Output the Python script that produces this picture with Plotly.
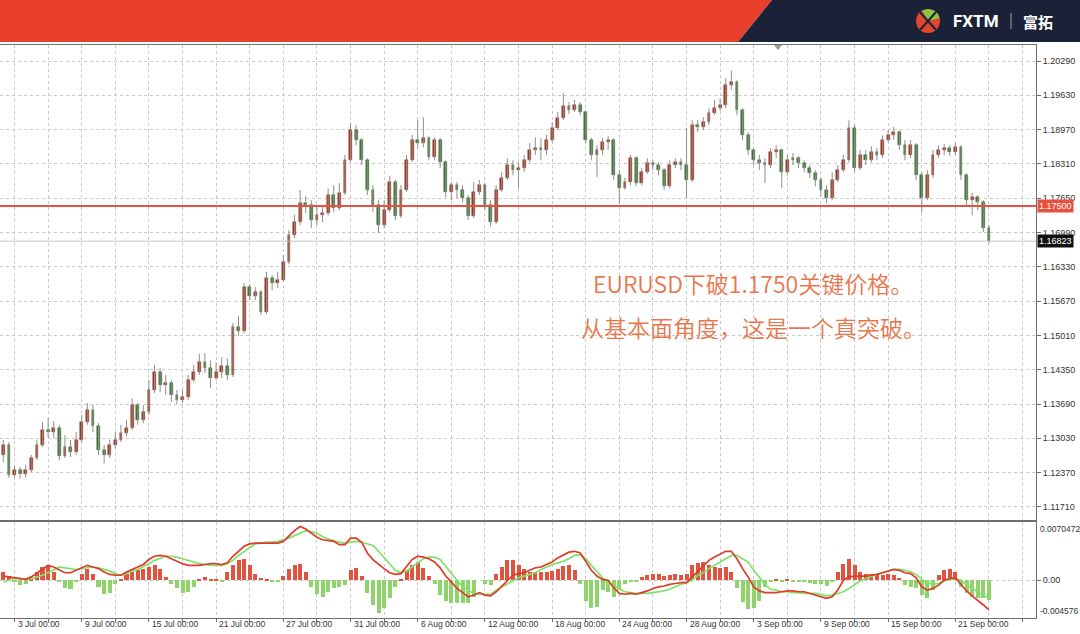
import plotly.graph_objects as go

# ---------------- data (EURUSD, bars ~8h) ----------------
OPEN = [1.1271, 1.1290, 1.1232, 1.1242, 1.1234, 1.1242, 1.1265, 1.1290, 1.1319, 1.1315,
        1.1323, 1.1269, 1.1286, 1.1277, 1.1300, 1.1334, 1.1357, 1.1327, 1.1280, 1.1271,
        1.1290, 1.1300, 1.1313, 1.1323, 1.1367, 1.1338, 1.1353, 1.1396, 1.1430, 1.1405,
        1.1409, 1.1386, 1.1377, 1.1382, 1.1415, 1.1430, 1.1449, 1.1438, 1.1419, 1.1430,
        1.1442, 1.1425, 1.1517, 1.1510, 1.1594, 1.1577, 1.1585, 1.1546, 1.1611, 1.1602,
        1.1608, 1.1642, 1.1694, 1.1719, 1.1756, 1.1752, 1.1723, 1.1732, 1.1736, 1.1771,
        1.1746, 1.1775, 1.1838, 1.1896, 1.1877, 1.1838, 1.1780, 1.1752, 1.1713, 1.1742,
        1.1796, 1.1730, 1.1781, 1.1838, 1.1877, 1.1871, 1.1881, 1.1844, 1.1877, 1.1834,
        1.1777, 1.1790, 1.1781, 1.1765, 1.1730, 1.1777, 1.1790, 1.1752, 1.1719, 1.1781,
        1.1804, 1.1829, 1.1819, 1.1823, 1.1838, 1.1858, 1.1861, 1.1858, 1.1877, 1.1900,
        1.1919, 1.1942, 1.1934, 1.1944, 1.1931, 1.1877, 1.1848, 1.1858, 1.1873, 1.1877,
        1.1809, 1.1784, 1.1796, 1.1842, 1.1794, 1.1815, 1.1832, 1.1829, 1.1819, 1.1788,
        1.1829, 1.1834, 1.1829, 1.1800, 1.1906, 1.1902, 1.1911, 1.1929, 1.1938, 1.1944,
        1.1982, 1.1988, 1.1934, 1.1886, 1.1858, 1.1838, 1.1832, 1.1829, 1.1854, 1.1858,
        1.1815, 1.1838, 1.1842, 1.1832, 1.1823, 1.1813, 1.1800, 1.1781, 1.1765, 1.1800,
        1.1819, 1.1838, 1.1900, 1.1823, 1.1848, 1.1838, 1.1854, 1.1848, 1.1877, 1.1886,
        1.1892, 1.1867, 1.1848, 1.1867, 1.1809, 1.1765, 1.1809, 1.1848, 1.1858, 1.1861,
        1.1854, 1.1863, 1.1809, 1.1761, 1.1767, 1.1757, 1.1708]
HIGH = [1.1300, 1.1296, 1.1250, 1.1248, 1.1252, 1.1271, 1.1300, 1.1334, 1.1342, 1.1336,
        1.1329, 1.1309, 1.1300, 1.1315, 1.1348, 1.1371, 1.1367, 1.1332, 1.1290, 1.1300,
        1.1315, 1.1329, 1.1338, 1.1380, 1.1371, 1.1367, 1.1415, 1.1444, 1.1438, 1.1425,
        1.1415, 1.1396, 1.1396, 1.1425, 1.1444, 1.1465, 1.1467, 1.1453, 1.1449, 1.1459,
        1.1457, 1.1525, 1.1538, 1.1602, 1.1600, 1.1594, 1.1588, 1.1623, 1.1617, 1.1623,
        1.1656, 1.1704, 1.1733, 1.1781, 1.1769, 1.1761, 1.1748, 1.1752, 1.1784, 1.1790,
        1.1794, 1.1848, 1.1910, 1.1906, 1.1881, 1.1842, 1.1790, 1.1761, 1.1761, 1.1808,
        1.1800, 1.1790, 1.1848, 1.1887, 1.1916, 1.1921, 1.1884, 1.1882, 1.1881, 1.1838,
        1.1796, 1.1796, 1.1790, 1.1771, 1.1796, 1.1800, 1.1794, 1.1761, 1.1790, 1.1815,
        1.1842, 1.1838, 1.1834, 1.1848, 1.1871, 1.1882, 1.1881, 1.1887, 1.1911, 1.1931,
        1.1967, 1.1950, 1.1954, 1.1950, 1.1934, 1.1881, 1.1867, 1.1881, 1.1884, 1.1880,
        1.1819, 1.1804, 1.1848, 1.1846, 1.1823, 1.1842, 1.1838, 1.1834, 1.1823, 1.1838,
        1.1842, 1.1842, 1.1900, 1.1915, 1.1915, 1.1921, 1.1938, 1.1954, 1.1957, 1.1996,
        1.2011, 1.1992, 1.1938, 1.1892, 1.1861, 1.1848, 1.1842, 1.1861, 1.1867, 1.1861,
        1.1848, 1.1852, 1.1846, 1.1838, 1.1829, 1.1819, 1.1804, 1.1790, 1.1815, 1.1829,
        1.1848, 1.1915, 1.1906, 1.1858, 1.1858, 1.1865, 1.1861, 1.1886, 1.1896, 1.1902,
        1.1896, 1.1877, 1.1877, 1.1871, 1.1815, 1.1819, 1.1858, 1.1867, 1.1869, 1.1867,
        1.1871, 1.1867, 1.1813, 1.1775, 1.1771, 1.1761, 1.1713]
LOW = [1.1257, 1.1227, 1.1227, 1.1225, 1.1227, 1.1238, 1.1261, 1.1286, 1.1304, 1.1304,
       1.1261, 1.1265, 1.1267, 1.1271, 1.1296, 1.1329, 1.1315, 1.1271, 1.1255, 1.1265,
       1.1284, 1.1296, 1.1307, 1.1319, 1.1329, 1.1332, 1.1348, 1.1390, 1.1392, 1.1386,
       1.1373, 1.1369, 1.1371, 1.1377, 1.1411, 1.1425, 1.1428, 1.1400, 1.1415, 1.1419,
       1.1415, 1.1421, 1.1500, 1.1505, 1.1569, 1.1569, 1.1540, 1.1542, 1.1588, 1.1592,
       1.1604, 1.1638, 1.1688, 1.1713, 1.1736, 1.1708, 1.1713, 1.1719, 1.1732, 1.1738,
       1.1742, 1.1771, 1.1834, 1.1867, 1.1829, 1.1771, 1.1738, 1.1698, 1.1707, 1.1738,
       1.1723, 1.1727, 1.1777, 1.1834, 1.1862, 1.1863, 1.1838, 1.1838, 1.1823, 1.1767,
       1.1761, 1.1765, 1.1757, 1.1723, 1.1727, 1.1771, 1.1742, 1.1711, 1.1715, 1.1777,
       1.1800, 1.1809, 1.1784, 1.1815, 1.1834, 1.1848, 1.1838, 1.1848, 1.1873, 1.1896,
       1.1915, 1.1927, 1.1931, 1.1925, 1.1871, 1.1838, 1.1806, 1.1848, 1.1858, 1.1800,
       1.1755, 1.1781, 1.1790, 1.1788, 1.1790, 1.1812, 1.1819, 1.1809, 1.1781, 1.1784,
       1.1823, 1.1819, 1.1765, 1.1796, 1.1892, 1.1896, 1.1906, 1.1925, 1.1934, 1.1938,
       1.1973, 1.1925, 1.1877, 1.1848, 1.1829, 1.1819, 1.1794, 1.1823, 1.1842, 1.1784,
       1.1809, 1.1829, 1.1823, 1.1815, 1.1804, 1.1788, 1.1769, 1.1755, 1.1761, 1.1796,
       1.1815, 1.1834, 1.1815, 1.1819, 1.1829, 1.1834, 1.1838, 1.1842, 1.1873, 1.1877,
       1.1858, 1.1838, 1.1842, 1.1800, 1.1738, 1.1761, 1.1804, 1.1842, 1.1848, 1.1846,
       1.1848, 1.1800, 1.1752, 1.1732, 1.1742, 1.1700, 1.1677]
CLOSE = [1.1290, 1.1232, 1.1242, 1.1234, 1.1242, 1.1265, 1.1290, 1.1319, 1.1315, 1.1323,
         1.1269, 1.1286, 1.1277, 1.1300, 1.1334, 1.1357, 1.1327, 1.1280, 1.1271, 1.1290,
         1.1300, 1.1313, 1.1323, 1.1367, 1.1338, 1.1353, 1.1396, 1.1430, 1.1405, 1.1409,
         1.1386, 1.1377, 1.1382, 1.1415, 1.1430, 1.1449, 1.1438, 1.1419, 1.1430, 1.1442,
         1.1425, 1.1517, 1.1510, 1.1594, 1.1577, 1.1585, 1.1546, 1.1611, 1.1602, 1.1608,
         1.1642, 1.1694, 1.1719, 1.1756, 1.1752, 1.1723, 1.1732, 1.1736, 1.1771, 1.1746,
         1.1775, 1.1838, 1.1896, 1.1877, 1.1838, 1.1780, 1.1752, 1.1713, 1.1742, 1.1796,
         1.1730, 1.1781, 1.1838, 1.1877, 1.1871, 1.1881, 1.1844, 1.1877, 1.1834, 1.1777,
         1.1790, 1.1781, 1.1765, 1.1730, 1.1777, 1.1790, 1.1752, 1.1719, 1.1781, 1.1804,
         1.1829, 1.1819, 1.1823, 1.1838, 1.1858, 1.1861, 1.1858, 1.1877, 1.1900, 1.1919,
         1.1942, 1.1934, 1.1944, 1.1931, 1.1877, 1.1848, 1.1858, 1.1873, 1.1877, 1.1809,
         1.1784, 1.1796, 1.1842, 1.1794, 1.1815, 1.1832, 1.1829, 1.1819, 1.1788, 1.1829,
         1.1834, 1.1829, 1.1800, 1.1906, 1.1902, 1.1911, 1.1929, 1.1938, 1.1944, 1.1982,
         1.1988, 1.1934, 1.1886, 1.1858, 1.1838, 1.1832, 1.1829, 1.1854, 1.1858, 1.1815,
         1.1838, 1.1842, 1.1832, 1.1823, 1.1813, 1.1800, 1.1781, 1.1765, 1.1800, 1.1819,
         1.1838, 1.1900, 1.1823, 1.1848, 1.1838, 1.1854, 1.1848, 1.1877, 1.1886, 1.1892,
         1.1867, 1.1848, 1.1867, 1.1809, 1.1765, 1.1809, 1.1848, 1.1858, 1.1861, 1.1854,
         1.1863, 1.1809, 1.1761, 1.1767, 1.1757, 1.1708, 1.16823]

MACD_MAIN = [0.0005, 0.0004, 0.0003, 0.0002, 0.0001, 0.0004, 0.0009, 0.0014, 0.0018, 0.0016,
             0.0012, 0.0009, 0.0009, 0.0012, 0.0015, 0.0018, 0.0016, 0.0014, 0.0010, 0.0007,
             0.0006, 0.0006, 0.0010, 0.0013, 0.0016, 0.0019, 0.0025, 0.0029, 0.0030, 0.0029,
             0.0026, 0.0023, 0.0020, 0.0018, 0.0018, 0.0018, 0.0019, 0.0020, 0.0020, 0.0019,
             0.0021, 0.0029, 0.0035, 0.0041, 0.0044, 0.0045, 0.0045, 0.0045, 0.0045, 0.0045,
             0.0047, 0.0054, 0.0060, 0.0065, 0.0062, 0.0057, 0.0052, 0.0049, 0.0048, 0.0047,
             0.0043, 0.0043, 0.0051, 0.0051, 0.0046, 0.0033, 0.0025, 0.0019, 0.0014, 0.0009,
             0.0007, 0.0008, 0.0016, 0.0025, 0.0029, 0.0028, 0.0026, 0.0022, 0.0015, 0.0005,
             -0.0002, -0.0010, -0.0015, -0.0020, -0.0018, -0.0015, -0.0018, -0.0019, -0.0014, -0.0007,
             0.0000, 0.0006, 0.0008, 0.0009, 0.0012, 0.0015, 0.0016, 0.0019, 0.0022, 0.0027,
             0.0031, 0.0034, 0.0035, 0.0033, 0.0023, 0.0012, 0.0005, 0.0001, 0.0000, -0.0009,
             -0.0016, -0.0017, -0.0016, -0.0017, -0.0015, -0.0013, -0.0010, -0.0008, -0.0007, -0.0005,
             -0.0004, -0.0003, -0.0003, 0.0004, 0.0011, 0.0018, 0.0024, 0.0028, 0.0031, 0.0035,
             0.0035, 0.0026, 0.0014, 0.0004, -0.0008, -0.0013, -0.0015, -0.0015, -0.0015, -0.0014,
             -0.0013, -0.0013, -0.0014, -0.0014, -0.0016, -0.0018, -0.0020, -0.0022, -0.0020, -0.0012,
             0.0000, 0.0004, 0.0005, 0.0005, 0.0005, 0.0006, 0.0007, 0.0009, 0.0011, 0.0013,
             0.0012, 0.0009, 0.0008, 0.0003, -0.0008, -0.0012, -0.0010, -0.0006, 0.0000, 0.0002,
             0.0003, -0.0005, -0.0013, -0.0019, -0.0024, -0.0030, -0.0036]
MACD_SIGNAL = [-0.0002, 0.0000, 0.0002, 0.0002, 0.0001, 0.0002, 0.0004, 0.0006, 0.0009, 0.0013,
               0.0016, 0.0015, 0.0014, 0.0013, 0.0014, 0.0015, 0.0016, 0.0015, 0.0013, 0.0011,
               0.0008, 0.0006, 0.0008, 0.0011, 0.0013, 0.0016, 0.0020, 0.0024, 0.0027, 0.0029,
               0.0029, 0.0028, 0.0026, 0.0024, 0.0022, 0.0020, 0.0019, 0.0018, 0.0018, 0.0018,
               0.0020, 0.0024, 0.0030, 0.0035, 0.0040, 0.0044, 0.0045, 0.0046, 0.0046, 0.0047,
               0.0049, 0.0051, 0.0054, 0.0057, 0.0060, 0.0059, 0.0057, 0.0053, 0.0050, 0.0048,
               0.0046, 0.0045, 0.0046, 0.0047, 0.0046, 0.0044, 0.0042, 0.0035, 0.0027, 0.0020,
               0.0012, 0.0009, 0.0011, 0.0016, 0.0021, 0.0026, 0.0028, 0.0028, 0.0025, 0.0017,
               0.0009, 0.0000, -0.0008, -0.0012, -0.0016, -0.0017, -0.0017, -0.0017, -0.0012, -0.0008,
               -0.0004, 0.0000, 0.0003, 0.0005, 0.0007, 0.0009, 0.0013, 0.0016, 0.0019, 0.0021,
               0.0023, 0.0026, 0.0030, 0.0031, 0.0026, 0.0018, 0.0010, 0.0003, -0.0003, -0.0007,
               -0.0011, -0.0014, -0.0015, -0.0016, -0.0016, -0.0016, -0.0015, -0.0014, -0.0013, -0.0011,
               -0.0008, -0.0005, -0.0003, 0.0000, 0.0006, 0.0009, 0.0014, 0.0018, 0.0022, 0.0026,
               0.0030, 0.0030, 0.0026, 0.0022, 0.0012, 0.0003, -0.0005, -0.0011, -0.0012, -0.0014,
               -0.0014, -0.0015, -0.0015, -0.0016, -0.0016, -0.0016, -0.0017, -0.0019, -0.0018, -0.0016,
               -0.0014, -0.0010, -0.0005, -0.0001, 0.0002, 0.0005, 0.0007, 0.0009, 0.0011, 0.0013,
               0.0013, 0.0012, 0.0010, 0.0007, 0.0001, -0.0003, -0.0005, -0.0004, -0.0001, 0.0001,
               0.0002, 0.0000, -0.0006, -0.0010, -0.0014, -0.0018, -0.0022]
MACD_HIST = [0.0010, 0.0005, -0.0001, -0.0006, -0.0004, 0.0002, 0.0010, 0.0016, 0.0018, 0.0010,
             -0.0002, -0.0010, -0.0011, -0.0002, 0.0008, 0.0013, 0.0007, -0.0008, -0.0017, -0.0015,
             -0.0005, 0.0002, 0.0007, 0.0010, 0.0012, 0.0014, 0.0016, 0.0018, 0.0014, 0.0004,
             -0.0004, -0.0010, -0.0015, -0.0014, -0.0008, 0.0002, 0.0004, 0.0001, 0.0002, -0.0002,
             0.0010, 0.0018, 0.0024, 0.0026, 0.0018, 0.0008, 0.0003, 0.0002, -0.0001, -0.0001,
             0.0005, 0.0013, 0.0018, 0.0020, 0.0010, -0.0008, -0.0017, -0.0020, -0.0014, -0.0010,
             -0.0008, -0.0006, 0.0012, 0.0015, 0.0005, -0.0015, -0.0030, -0.0040, -0.0034, -0.0022,
             -0.0008, 0.0002, 0.0012, 0.0018, 0.0022, 0.0015, 0.0005, -0.0005, -0.0018, -0.0025,
             -0.0028, -0.0028, -0.0027, -0.0027, -0.0020, 0.0000, -0.0005, -0.0006, 0.0008, 0.0016,
             0.0024, 0.0025, 0.0018, 0.0013, 0.0010, 0.0010, 0.0010, 0.0010, 0.0011, 0.0013,
             0.0017, 0.0018, 0.0012, -0.0005, -0.0025, -0.0034, -0.0033, -0.0012, -0.0014, -0.0020,
             -0.0012, -0.0004, -0.0002, -0.0001, 0.0004, 0.0006, 0.0008, 0.0007, 0.0005, 0.0006,
             0.0007, 0.0006, 0.0008, 0.0018, 0.0021, 0.0022, 0.0018, 0.0016, 0.0015, 0.0016,
             0.0010, -0.0010, -0.0026, -0.0035, -0.0034, -0.0025, -0.0008, -0.0002, 0.0001, -0.0001,
             0.0001, -0.0001, -0.0002, -0.0002, -0.0003, -0.0004, -0.0005, -0.0007, -0.0002, 0.0010,
             0.0020, 0.0026, 0.0018, 0.0010, 0.0007, 0.0007, 0.0007, 0.0006, 0.0007, 0.0006,
             0.0003, -0.0006, -0.0008, -0.0010, -0.0018, -0.0022, -0.0012, 0.0006, 0.0012, 0.0014,
             0.0010, -0.0008, -0.0016, -0.0020, -0.0021, -0.0022, -0.0024]

PRICE_TICKS = [1.20290, 1.19630, 1.18970, 1.18310, 1.17650, 1.16990, 1.16330,
               1.15670, 1.15010, 1.14350, 1.13690, 1.13030, 1.12370, 1.11710]
XLABELS = ["3 Jul 00:00", "9 Jul 00:00", "15 Jul 00:00", "21 Jul 00:00", "27 Jul 00:00",
           "31 Jul 00:00", "6 Aug 00:00", "12 Aug 00:00", "18 Aug 00:00", "24 Aug 00:00",
           "28 Aug 00:00", "3 Sep 00:00", "9 Sep 00:00", "15 Sep 00:00", "21 Sep 00:00"]
XLABEL_BARS = [2, 14, 26, 38, 50, 62, 74, 86, 98, 110, 122, 134, 146, 158, 170]
KEY_LEVEL = 1.17500
LAST_PRICE = 1.16823
MACD_MAX = 0.0070472
MACD_MIN = -0.004576
NOTE_LINES = ["EURUSD下破1.1750关键价格。", "从基本面角度，这是一个真突破。"]

# ---------------- layout helpers ----------------
W, H = 1080, 634
def px(x):
    return x / W
def py(y):
    return 1 - y / H

MAIN_TOP, MAIN_BOT = 45, 520
SUB_TOP, SUB_BOT = 522, 618
PLOT_RIGHT = 1036
X_RANGE = [-0.59, 184.4]
Y_RANGE = [1.11458, 1.20598]

UP_COL = "#9B3826"
DN_COL = "#3F7436"
WICK_COL = "#8E8E8E"
GRID_COL = "#C9C9C9"
TXT = "Liberation Sans"

idx = list(range(len(CLOSE)))

fig = go.Figure()

# wicks
wx, wy = [], []
for i, lo, hi in zip(idx, LOW, HIGH):
    wx += [i, i, None]
    wy += [lo, hi, None]
fig.add_trace(go.Scatter(x=wx, y=wy, mode="lines", line=dict(color=WICK_COL, width=1),
                         hoverinfo="skip", showlegend=False, xaxis="x", yaxis="y"))
# bodies
body_base = [min(o, c) for o, c in zip(OPEN, CLOSE)]
body_h = [abs(c - o) for o, c in zip(OPEN, CLOSE)]
body_col = [UP_COL if c >= o else DN_COL for o, c in zip(OPEN, CLOSE)]
fig.add_trace(go.Bar(x=idx, y=body_h, base=body_base, width=0.5,
                     marker=dict(color=body_col, line=dict(color=body_col, width=0.5)),
                     showlegend=False, xaxis="x", yaxis="y"))

# MACD histogram + lines
hist_col = ["#E2533F" if v >= 0 else "#8FD36B" for v in MACD_HIST]
fig.add_trace(go.Bar(x=idx, y=MACD_HIST, width=0.72, marker=dict(color=hist_col, line=dict(width=0)),
                     showlegend=False, xaxis="x2", yaxis="y2"))
fig.add_trace(go.Scatter(x=idx, y=MACD_SIGNAL, mode="lines", line=dict(color="#7FE36A", width=1.7),
                         showlegend=False, xaxis="x2", yaxis="y2"))
fig.add_trace(go.Scatter(x=idx, y=MACD_MAIN, mode="lines", line=dict(color="#E03A2A", width=1.7),
                         showlegend=False, xaxis="x2", yaxis="y2"))

grid_vals = list(range(2, 185, 6))
xdom = [0, px(PLOT_RIGHT)]

fig.update_layout(
    width=W, height=H, margin=dict(l=0, r=0, t=0, b=0),
    paper_bgcolor="white", plot_bgcolor="white", showlegend=False,
    bargap=0,
    xaxis=dict(domain=xdom, range=X_RANGE, anchor="y", tickvals=grid_vals, showticklabels=False,
               showgrid=True, gridcolor=GRID_COL, griddash="dot", gridwidth=1, zeroline=False,
               showline=True, linecolor="#6E6E6E", linewidth=1, mirror=True, ticks=""),
    yaxis=dict(domain=[py(MAIN_BOT), py(MAIN_TOP)], range=Y_RANGE, side="right", anchor="x",
               tickvals=PRICE_TICKS, ticktext=[f"{v:.5f}" for v in PRICE_TICKS],
               tickfont=dict(family=TXT, size=9, color="#333"), ticks="outside", ticklen=4,
               tickcolor="#6E6E6E", showgrid=True, gridcolor=GRID_COL, griddash="dot",
               zeroline=False, showline=True, linecolor="#6E6E6E", linewidth=1),
    xaxis2=dict(domain=xdom, range=X_RANGE, anchor="y2", tickvals=grid_vals, showticklabels=False,
                showgrid=True, gridcolor=GRID_COL, griddash="dot", zeroline=False,
                showline=True, linecolor="#6E6E6E", linewidth=1, mirror=True,
                ticks="outside", ticklen=3, tickcolor="#6E6E6E"),
    yaxis2=dict(domain=[py(SUB_BOT), py(SUB_TOP)], range=[MACD_MIN, MACD_MAX], side="right",
                anchor="x2", tickvals=[0], ticktext=["0.00"],
                tickfont=dict(family=TXT, size=9, color="#333"), ticks="outside", ticklen=4,
                tickcolor="#6E6E6E", showgrid=True, gridcolor=GRID_COL, griddash="dot",
                zeroline=False, showline=True, linecolor="#6E6E6E", linewidth=1),
)

shapes = []
# banner
shapes.append(dict(type="path", xref="paper", yref="paper", layer="above",
                   path=f"M{px(0)},{py(0)} L{px(772)},{py(0)} L{px(738)},{py(42)} L{px(0)},{py(42)} Z",
                   fillcolor="#E8402A", line=dict(width=0)))
shapes.append(dict(type="path", xref="paper", yref="paper", layer="above",
                   path=f"M{px(772)},{py(0)} L{px(1080)},{py(0)} L{px(1080)},{py(42)} L{px(738)},{py(42)} Z",
                   fillcolor="#1B2237", line=dict(width=0)))
# logo icon
shapes.append(dict(type="circle", xref="paper", yref="paper", x0=px(916), x1=px(940), y0=py(33), y1=py(9),
                   fillcolor="#E2472D", line=dict(width=0)))
shapes.append(dict(type="path", xref="paper", yref="paper",
                   path=(f"M{px(928)},{py(21)} L{px(922)},{py(10.5)} L{px(928)},{py(9)} "
                         f"L{px(934)},{py(10.5)} L{px(938)},{py(14)} L{px(939.5)},{py(18)} Z"),
                   fillcolor="#8CC63F", line=dict(width=0)))
for (x0, y0, x1, y1) in [(920, 12, 936, 30), (936, 12, 920, 30)]:
    shapes.append(dict(type="line", xref="paper", yref="paper", x0=px(x0), y0=py(y0), x1=px(x1), y1=py(y1),
                       line=dict(color="#1B2237", width=2)))
shapes.append(dict(type="line", xref="paper", yref="paper", x0=px(1011), x1=px(1011), y0=py(13), y1=py(29),
                   line=dict(color="#9AA0AA", width=1)))
# chart-shift marker
shapes.append(dict(type="path", xref="paper", yref="paper",
                   path=f"M{px(774)},{py(45)} L{px(782)},{py(45)} L{px(778)},{py(50)} Z",
                   fillcolor="#9A9A9A", line=dict(width=0)))
# last price line and key level
shapes.append(dict(type="line", xref="paper", yref="y", x0=0, x1=px(PLOT_RIGHT), y0=LAST_PRICE, y1=LAST_PRICE,
                   line=dict(color="#C4C4C4", width=1)))
shapes.append(dict(type="line", xref="paper", yref="y", x0=0, x1=px(PLOT_RIGHT), y0=KEY_LEVEL, y1=KEY_LEVEL,
                   line=dict(color="#E8513F", width=2)))
fig.update_layout(shapes=shapes)

ann = []
for b, t in zip(XLABEL_BARS, XLABELS):
    ann.append(dict(x=b, xref="x2", y=py(624), yref="paper", text=t, showarrow=False,
                    xanchor="left", yanchor="middle", xshift=1,
                    font=dict(family=TXT, size=8.5, color="#333")))
ann.append(dict(x=px(PLOT_RIGHT + 1), xref="paper", y=KEY_LEVEL, yref="y", text=f"{KEY_LEVEL:.5f}",
                showarrow=False, xanchor="left", yanchor="middle", bgcolor="#E8513F", borderpad=1,
                font=dict(family=TXT, size=9, color="white")))
ann.append(dict(x=px(PLOT_RIGHT + 1), xref="paper", y=LAST_PRICE, yref="y", text=f"{LAST_PRICE:.5f}",
                showarrow=False, xanchor="left", yanchor="middle", bgcolor="#111111", borderpad=1,
                font=dict(family=TXT, size=9, color="white")))
ann.append(dict(x=px(PLOT_RIGHT + 2), xref="paper", y=py(529), yref="paper", text=f"{MACD_MAX:.7f}",
                showarrow=False, xanchor="left", yanchor="middle",
                font=dict(family=TXT, size=8.5, color="#333")))
ann.append(dict(x=px(PLOT_RIGHT + 2), xref="paper", y=py(611), yref="paper", text=f"{MACD_MIN:.6f}",
                showarrow=False, xanchor="left", yanchor="middle",
                font=dict(family=TXT, size=8.5, color="#333")))
for k, line in enumerate(NOTE_LINES):
    ann.append(dict(x=px(753), xref="paper", y=py(283 + 44 * k), yref="paper", text=line,
                    showarrow=False, xanchor="center", yanchor="middle",
                    font=dict(family="Noto Sans CJK SC", size=23, color="#E9774E", weight=350)))
ann.append(dict(x=px(976), xref="paper", y=py(21), yref="paper", text="<b>FXTM</b>", showarrow=False,
                xanchor="center", yanchor="middle", font=dict(family="Roboto", size=17, color="white")))
ann.append(dict(x=px(1038), xref="paper", y=py(21), yref="paper", text="<b>富拓</b>", showarrow=False,
                xanchor="center", yanchor="middle", font=dict(family="Noto Sans CJK SC", size=15, color="white")))
fig.update_layout(annotations=ann)

fig.write_html("out.html", config={"displayModeBar": False},
               post_script="document.body.style.margin='0';document.body.style.overflow='hidden';")
